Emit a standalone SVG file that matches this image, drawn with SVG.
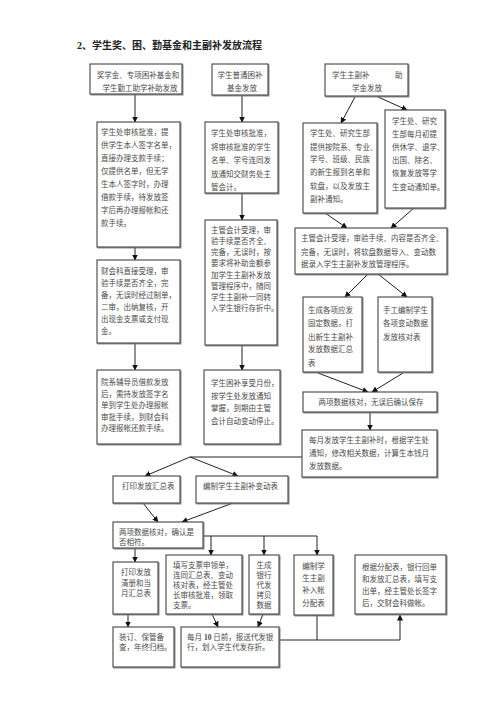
<svg xmlns="http://www.w3.org/2000/svg" width="500" height="707" viewBox="0 0 500 707">
<style>
.bx{fill:#fff;stroke:#444;stroke-width:1.1}
.t{font-family:"Liberation Serif","Noto Sans CJK SC",serif;font-size:7.5px;fill:#4a4a4a}
.c{text-anchor:middle}
.ttl{font-family:"Liberation Serif","Noto Sans CJK SC",serif;font-size:10px;fill:#222;font-weight:bold}
.ln{fill:none;stroke:#222;stroke-width:1}
</style>
<defs>
<marker id="ah" markerWidth="6" markerHeight="6" refX="5.5" refY="3" orient="auto" markerUnits="userSpaceOnUse">
<path d="M0,0 L6,3 L0,6 Z" fill="#111"/>
</marker>
<filter id="sh" x="-5%" y="-5%" width="115%" height="115%">
<feDropShadow dx="1" dy="1" stdDeviation="0.3" flood-color="#777" flood-opacity="0.8"/>
</filter>
</defs>
<rect width="500" height="707" fill="#fff"/>
<text class="ttl" x="77" y="49">2、学生奖、困、勤基金和主副补发放流程</text>

<g id="connectors">
<line class="ln" x1="135" y1="94" x2="135" y2="122" marker-end="url(#ah)"/>
<line class="ln" x1="135" y1="247" x2="135" y2="260" marker-end="url(#ah)"/>
<line class="ln" x1="135" y1="343" x2="135" y2="370" marker-end="url(#ah)"/>
<line class="ln" x1="242" y1="95" x2="242" y2="122" marker-end="url(#ah)"/>
<line class="ln" x1="242" y1="193" x2="242" y2="220" marker-end="url(#ah)"/>
<line class="ln" x1="242" y1="345" x2="242" y2="370" marker-end="url(#ah)"/>
<line class="ln" x1="355" y1="97" x2="341" y2="123" marker-end="url(#ah)"/>
<line class="ln" x1="378" y1="97" x2="407" y2="110" marker-end="url(#ah)"/>
<line class="ln" x1="325" y1="213" x2="347" y2="228" marker-end="url(#ah)"/>
<line class="ln" x1="414" y1="208" x2="391" y2="228" marker-end="url(#ah)"/>
<line class="ln" x1="368" y1="274" x2="345" y2="297" marker-end="url(#ah)"/>
<line class="ln" x1="378" y1="274" x2="407" y2="297" marker-end="url(#ah)"/>
<line class="ln" x1="318" y1="373" x2="368" y2="392" marker-end="url(#ah)"/>
<line class="ln" x1="403" y1="373" x2="372" y2="392" marker-end="url(#ah)"/>
<line class="ln" x1="370" y1="412" x2="370" y2="430" marker-end="url(#ah)"/>
<polyline class="ln" points="302,457 190,457"/>
<line class="ln" x1="190" y1="457" x2="145" y2="476" marker-end="url(#ah)"/>
<line class="ln" x1="190" y1="457" x2="238" y2="476" marker-end="url(#ah)"/>
<line class="ln" x1="143" y1="503" x2="158" y2="522" marker-end="url(#ah)"/>
<line class="ln" x1="233" y1="503" x2="182" y2="522" marker-end="url(#ah)"/>
<polyline class="ln" points="203,536 317,536"/>
<line class="ln" x1="211" y1="536" x2="211" y2="555" marker-end="url(#ah)"/>
<line class="ln" x1="264" y1="536" x2="264" y2="555" marker-end="url(#ah)"/>
<line class="ln" x1="317" y1="536" x2="317" y2="555" marker-end="url(#ah)"/>
<line class="ln" x1="135" y1="548" x2="135" y2="562" marker-end="url(#ah)"/>
<line class="ln" x1="128" y1="614" x2="128" y2="627" marker-end="url(#ah)"/>
<line class="ln" x1="212" y1="614" x2="218" y2="627" marker-end="url(#ah)"/>
<line class="ln" x1="263" y1="614" x2="258" y2="627" marker-end="url(#ah)"/>
<polyline class="ln" points="317,615 317,640"/>
<polyline class="ln" points="279,640 400,640 400,615" marker-end="url(#ah)"/>
</g>

<g id="n1">
<rect class="bx" filter="url(#sh)" x="90" y="64" width="92" height="30"/>
<text class="t c" x="138" y="78">奖学金、专项困补基金和</text>
<text class="t c" x="140" y="91">学生勤工助学补助发放</text>
</g>
<g id="n2">
<rect class="bx" filter="url(#sh)" x="97" y="122" width="83" height="125"/>
<text class="t" x="101" y="135">学生处审核批准，提</text>
<text class="t" x="101" y="148">供学生本人签字名单，</text>
<text class="t" x="101" y="161">直接办理支款手续；</text>
<text class="t" x="101" y="174">仅提供名单，但无学</text>
<text class="t" x="101" y="187">生本人签字时，办理</text>
<text class="t" x="101" y="200">借款手续，待发放签</text>
<text class="t" x="101" y="213">字后再办理报帐和还</text>
<text class="t" x="101" y="226">款手续。</text>
</g>
<g id="n3">
<rect class="bx" filter="url(#sh)" x="97" y="260" width="83" height="83"/>
<text class="t" x="101" y="274">财会科直接受理，审</text>
<text class="t" x="101" y="286">验手续是否齐全，完</text>
<text class="t" x="101" y="298">备，无误时经过制单，</text>
<text class="t" x="101" y="310">二审，出纳复核，开</text>
<text class="t" x="101" y="322">出现金支票或支付现</text>
<text class="t" x="101" y="334">金。</text>
</g>
<g id="n4">
<rect class="bx" filter="url(#sh)" x="97" y="370" width="83" height="74"/>
<text class="t" x="101" y="385">院系辅导员借款发放</text>
<text class="t" x="101" y="396.5">后，需持发放签字名</text>
<text class="t" x="101" y="408">单到学生处办理报帐</text>
<text class="t" x="101" y="419.5">审批手续，到财会科</text>
<text class="t" x="101" y="431">办理报帐还款手续。</text>
</g>

<g id="n5">
<rect class="bx" filter="url(#sh)" x="212" y="64" width="56" height="31"/>
<text class="t c" x="240" y="78">学生普通困补</text>
<text class="t c" x="242" y="91">基金发放</text>
</g>
<g id="n6">
<rect class="bx" filter="url(#sh)" x="205" y="122" width="73" height="71"/>
<text class="t" x="211" y="136">学生处审核批准，</text>
<text class="t" x="211" y="149.5">将审核批准的学生</text>
<text class="t" x="211" y="163">名单、学号连同发</text>
<text class="t" x="211" y="176.5">放通知交财务处主</text>
<text class="t" x="211" y="190">管会计。</text>
</g>
<g id="n7">
<rect class="bx" filter="url(#sh)" x="205" y="220" width="72" height="125"/>
<text class="t" x="211" y="233">主管会计受理，审</text>
<text class="t" x="211" y="244">验手续是否齐全、</text>
<text class="t" x="211" y="255">完备，无误时，按</text>
<text class="t" x="211" y="266">要求将补助金额参</text>
<text class="t" x="211" y="278">加学生主副补发放</text>
<text class="t" x="211" y="289">管理程序中，随同</text>
<text class="t" x="211" y="300">学生主副补一同转</text>
<text class="t" x="211" y="311">入学生银行存折中。</text>
</g>
<g id="n8">
<rect class="bx" filter="url(#sh)" x="204" y="370" width="76" height="74"/>
<text class="t" x="211" y="386">学生困补享受月份，</text>
<text class="t" x="211" y="399">按学生处发放通知</text>
<text class="t" x="211" y="411">掌握，到期由主管</text>
<text class="t" x="211" y="424">会计自动变动停止。</text>
</g>

<g id="n9">
<rect class="bx" filter="url(#sh)" x="325" y="64" width="83" height="32"/>
<text class="t" x="332" y="78">学生主副补</text>
<text class="t" x="395" y="78">助</text>
<text class="t" x="352" y="91">学金发放</text>
</g>
<g id="n10">
<rect class="bx" filter="url(#sh)" x="303" y="123" width="74" height="90"/>
<text class="t" x="310" y="136">学生处、研究生部</text>
<text class="t" x="310" y="150">提供按院系、专业、</text>
<text class="t" x="310" y="162">学号、班级、民族</text>
<text class="t" x="310" y="175">的新生报到名单和</text>
<text class="t" x="310" y="189">软盘，以及发放主</text>
<text class="t" x="310" y="202">副补通知。</text>
</g>
<g id="n11">
<rect class="bx" filter="url(#sh)" x="385" y="110" width="60" height="98"/>
<text class="t" x="392" y="124">学生处、研究</text>
<text class="t" x="392" y="137">生部每月初提</text>
<text class="t" x="392" y="150">供休学、退学、</text>
<text class="t" x="392" y="163">出国、除名、</text>
<text class="t" x="392" y="176">恢复发放等学</text>
<text class="t" x="392" y="190">生变动通知单。</text>
</g>
<g id="n12">
<rect class="bx" filter="url(#sh)" x="295" y="228" width="152" height="46"/>
<text class="t" x="301" y="241">主管会计受理，审验手续、内容是否齐全、</text>
<text class="t" x="301" y="255">完备，无误时，将软盘数据导入、变动数</text>
<text class="t" x="301" y="267">据录入学生主副补发放管理程序。</text>
</g>
<g id="n13">
<rect class="bx" filter="url(#sh)" x="303" y="297" width="59" height="75"/>
<text class="t" x="308" y="313">生成各项应发</text>
<text class="t" x="308" y="326">固定数据，打</text>
<text class="t" x="308" y="340">出新生主副补</text>
<text class="t" x="308" y="352">发放数据汇总</text>
<text class="t" x="308" y="366">表</text>
</g>
<g id="n14">
<rect class="bx" filter="url(#sh)" x="378" y="297" width="54" height="75"/>
<text class="t" x="383" y="313">手工编制学生</text>
<text class="t" x="383" y="326">各项变动数据</text>
<text class="t" x="383" y="340">发放核对表</text>
</g>
<g id="n15">
<rect class="bx" filter="url(#sh)" x="303" y="392" width="134" height="20"/>
<text class="t c" x="371" y="405">两项数据核对，无误后确认保存</text>
</g>
<g id="n16">
<rect class="bx" filter="url(#sh)" x="302" y="430" width="135" height="47"/>
<text class="t" x="309" y="443">每月发放学生主副补时，根据学生处</text>
<text class="t" x="309" y="456">通知，修改相关数据，计算生本钱月</text>
<text class="t" x="309" y="469">发放数据。</text>
</g>

<g id="n17">
<rect class="bx" filter="url(#sh)" x="113" y="476" width="67" height="27"/>
<text class="t" x="122" y="489">打印发放汇总表</text>
</g>
<g id="n18">
<rect class="bx" filter="url(#sh)" x="196" y="476" width="92" height="27"/>
<text class="t" x="203" y="489">编制学生主副补变动表</text>
</g>
<g id="n19">
<rect class="bx" filter="url(#sh)" x="113" y="522" width="90" height="26"/>
<text class="t" x="119" y="535">两项数据核对，确认是</text>
<text class="t" x="119" y="545">否相符。</text>
</g>
<g id="n20">
<rect class="bx" filter="url(#sh)" x="113" y="562" width="45" height="52"/>
<text class="t" x="121" y="575">打印发放</text>
<text class="t" x="121" y="585.5">清册和当</text>
<text class="t" x="121" y="596">月汇总表</text>
</g>
<g id="n21">
<rect class="bx" filter="url(#sh)" x="113" y="627" width="61" height="40"/>
<text class="t" x="119" y="640">装订、保管备</text>
<text class="t" x="119" y="650">查，年终归档。</text>
</g>
<g id="n22">
<rect class="bx" filter="url(#sh)" x="166" y="555" width="76" height="59"/>
<text class="t" x="173" y="568">填写支票申领单，</text>
<text class="t" x="173" y="578">连同汇总表、变动</text>
<text class="t" x="173" y="588">核对表，经主管处</text>
<text class="t" x="173" y="598">长审核批准，领取</text>
<text class="t" x="173" y="608">支票。</text>
</g>
<g id="n23">
<rect class="bx" filter="url(#sh)" x="249" y="555" width="30" height="59"/>
<text class="t c" x="264" y="568">生成</text>
<text class="t c" x="264" y="578">银行</text>
<text class="t c" x="264" y="588">代发</text>
<text class="t c" x="264" y="598">拷贝</text>
<text class="t c" x="264" y="608">数据</text>
</g>
<g id="n24">
<rect class="bx" filter="url(#sh)" x="294" y="555" width="39" height="60"/>
<text class="t c" x="313.5" y="569">编制学</text>
<text class="t c" x="313.5" y="581">生主副</text>
<text class="t c" x="313.5" y="593">补入帐</text>
<text class="t c" x="313.5" y="606">分配表</text>
</g>
<g id="n25">
<rect class="bx" filter="url(#sh)" x="355" y="555" width="91" height="59"/>
<text class="t" x="362" y="570">根据分配表，银行回单</text>
<text class="t" x="362" y="582">和发放汇总表，填写支</text>
<text class="t" x="362" y="594">出单，经主管处长签字</text>
<text class="t" x="362" y="606">后，交财会科做帐。</text>
</g>
<g id="n26">
<rect class="bx" filter="url(#sh)" x="181" y="627" width="98" height="40"/>
<text class="t" x="187" y="640">每月 <tspan font-weight="bold">10</tspan> 日前，报送代发银</text>
<text class="t" x="187" y="650">行，划入学生代发存折。</text>
</g>
</svg>
